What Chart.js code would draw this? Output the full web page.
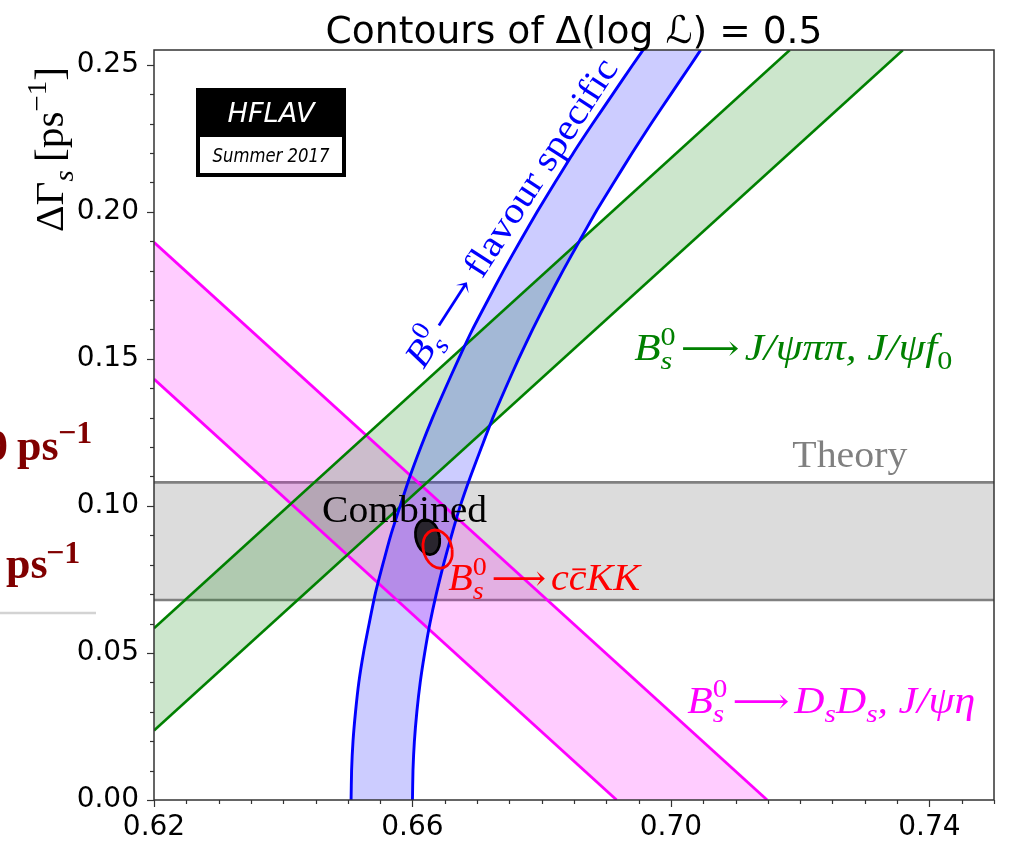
<!DOCTYPE html>
<html><head><meta charset="utf-8">
<script src="https://cdn.jsdelivr.net/npm/chart.js@4.4.0/dist/chart.umd.min.js"></script>
<style>html,body{margin:0;padding:0;background:#fff;}#wrap{width:1009px;height:843px;}</style>
</head><body><div id="wrap"><canvas id="c" width="1009" height="843"></canvas></div>
<script>
// ---- axis limits & tick labels ----
const xLimits = [0.62, 0.75];
const yLimits = [0.0, 0.255];
const xTickValues = [0.62, 0.66, 0.70, 0.74];
const yTickValues = [0.00, 0.05, 0.10, 0.15, 0.20, 0.25];
const xMinorStep = 0.005, yMinorStep = 0.01;

// ---- Theory band (ΔΓs range) ----
const theoryBand = [0.068, 0.108];

// ---- B_s -> J/psi pi pi, J/psi f0 (green band edges, [Γs, ΔΓs]) ----
const greenUpper = [[0.62, 0.0584], [0.7184, 0.255]];
const greenLower = [[0.62, 0.0236], [0.7359, 0.255]];

// ---- B_s -> Ds Ds, J/psi eta (magenta band edges) ----
const magentaUpper = [[0.62, 0.1896], [0.7149, 0.0]];
const magentaLower = [[0.62, 0.1431], [0.6916, 0.0]];

// ---- B_s -> flavour specific (blue band edges) ----
const blueDeltaGamma = [0, 0.01, 0.02, 0.03, 0.04, 0.05, 0.06, 0.07, 0.08, 0.09, 0.10, 0.11, 0.12, 0.13, 0.14, 0.15, 0.16, 0.17, 0.18, 0.19, 0.20, 0.21, 0.22, 0.23, 0.24, 0.25, 0.255];
const blueLeftGamma  = [0.6505, 0.65058, 0.6508, 0.65119, 0.6517, 0.65242, 0.6533, 0.65423, 0.6554, 0.65664, 0.6581, 0.65961, 0.6613, 0.66312, 0.6651, 0.66715, 0.6693, 0.67168, 0.6741, 0.67666, 0.6793, 0.68208, 0.6849, 0.6879, 0.6910, 0.6941, 0.6957];
const blueRightGamma = [0.6600, 0.66008, 0.6603, 0.66068, 0.6612, 0.66189, 0.6627, 0.66368, 0.6648, 0.66605, 0.6674, 0.66898, 0.6707, 0.67245, 0.6744, 0.67643, 0.6786, 0.6809, 0.6833, 0.68583, 0.6884, 0.69119, 0.6940, 0.69695, 0.7000, 0.70308, 0.7046];

// ---- Combined contour ----
const combinedGamma = [0.66421, 0.66378, 0.66297, 0.66199, 0.66111, 0.66056, 0.66049, 0.66092, 0.66173, 0.66271, 0.66359, 0.66414, 0.66421];
const combinedDG    = [0.0894, 0.09238, 0.09455, 0.09535, 0.09455, 0.09238, 0.0894, 0.08643, 0.08425, 0.08345, 0.08425, 0.08643, 0.0894];

// ---- B_s -> c cbar K K contour ----
const ccKKGamma = [0.66615, 0.66565, 0.66469, 0.66351, 0.66244, 0.66175, 0.66165, 0.66215, 0.66311, 0.66429, 0.66536, 0.66605, 0.66615];
const ccKKDG    = [0.0853, 0.08855, 0.09093, 0.0918, 0.09093, 0.08855, 0.0853, 0.08205, 0.07967, 0.0788, 0.07967, 0.08205, 0.0853];

// ---------------- helpers ----------------
const pts = a => a.map(p => ({x: p[0], y: p[1]}));
const zipPts = (xs, ys) => xs.map((x, i) => ({x: x, y: ys[i]}));

const blueLeft = zipPts(blueLeftGamma, blueDeltaGamma);
const blueRight = zipPts(blueRightGamma, blueDeltaGamma);

const greenPoly = pts([greenUpper[0], greenUpper[1], greenLower[1], greenLower[0]]);
const magentaPoly = pts([magentaUpper[0], magentaUpper[1], magentaLower[1], magentaLower[0]]);
const bluePoly = blueLeft.concat(blueRight.slice().reverse());
const theoryPoly = [{x: xLimits[0], y: theoryBand[0]}, {x: xLimits[1], y: theoryBand[0]}, {x: xLimits[1], y: theoryBand[1]}, {x: xLimits[0], y: theoryBand[1]}];

function lineDs(data, color, width, order, tension) {
  return {data, showLine: true, pointRadius: 0, borderColor: color, borderWidth: width, fill: false, order, tension: tension || 0, borderJoinStyle: 'round'};
}
function fillDs(data, color, order) {
  return {data, showLine: true, pointRadius: 0, borderWidth: 0, borderColor: 'rgba(0,0,0,0)', backgroundColor: color, fill: 'shape', order, tension: 0};
}

const datasets = [
  fillDs(theoryPoly, 'rgba(128,128,128,0.28)', 100),
  lineDs(pts([[xLimits[0], theoryBand[0]], [xLimits[1], theoryBand[0]]]), '#808080', 2.6, 90),
  lineDs(pts([[xLimits[0], theoryBand[1]], [xLimits[1], theoryBand[1]]]), '#808080', 2.6, 90),
  fillDs(magentaPoly, 'rgba(255,0,255,0.2)', 80),
  fillDs(greenPoly, 'rgba(0,128,0,0.2)', 79),
  fillDs(bluePoly, 'rgba(0,0,255,0.2)', 78),
  lineDs(pts(magentaUpper), '#ff00ff', 2.8, 50),
  lineDs(pts(magentaLower), '#ff00ff', 2.8, 50),
  lineDs(pts(greenUpper), '#008000', 2.6, 49),
  lineDs(pts(greenLower), '#008000', 2.6, 49),
  lineDs(blueLeft, '#0000ff', 2.9, 48, 0.2),
  lineDs(blueRight, '#0000ff', 2.9, 48, 0.2),
  {data: zipPts(combinedGamma, combinedDG), showLine: true, pointRadius: 0, borderColor: '#000', borderWidth: 2.8,
   backgroundColor: 'rgba(25,25,25,0.9)', fill: 'shape', tension: 0.45, order: 10},
  {data: zipPts(ccKKGamma, ccKKDG), showLine: true, pointRadius: 0, borderColor: '#ff0000', borderWidth: 2.8,
   fill: false, tension: 0.45, order: 5}
];

// ---------- text helpers ----------
const SERIF = '"Liberation Serif", "DejaVu Serif", serif';
function fontStr(sz, italic, bold, fam) { return (italic ? 'italic ' : '') + (bold ? 'bold ' : '') + sz + 'px ' + fam; }
function layoutMath(ctx, parts, size, fam, bold) {
  let w = 0; const items = [];
  for (const p of parts) {
    if (p.sp !== undefined) { w += p.sp * size; continue; }
    if (p.t !== undefined) {
      const sz = size * (p.sc || 1);
      ctx.font = fontStr(sz, p.i, bold, p.fam || fam);
      const tw = ctx.measureText(p.t).width;
      items.push({t: p.t, font: ctx.font, x: w, dy: (p.dy || 0) * size});
      if (p.bar) items.push({bar: true, x0: w + tw * 0.2, x1: w + tw * 0.95, dy: -size * 0.56, lw: size * 0.05});
      w += tw;
    } else {
      const ss = size * (p.scale || 0.7); let mw = 0;
      if (p.sub !== undefined) { ctx.font = fontStr(ss, p.subI, bold, fam); const tw = ctx.measureText(p.sub).width; items.push({t: p.sub, font: ctx.font, x: w, dy: size * 0.24}); mw = Math.max(mw, tw); }
      if (p.sup !== undefined) { ctx.font = fontStr(ss, p.supI, bold, fam); const tw = ctx.measureText(p.sup).width; items.push({t: p.sup, font: ctx.font, x: w, dy: -size * 0.42}); mw = Math.max(mw, tw); }
      w += mw;
    }
  }
  return {w, items};
}
function drawMath(ctx, parts, x, y, o) {
  const L = layoutMath(ctx, parts, o.size, o.fam || SERIF, o.bold);
  ctx.save();
  ctx.translate(x, y);
  if (o.angle) ctx.rotate(o.angle * Math.PI / 180);
  if (o.width) ctx.scale(o.width / L.w, 1);
  ctx.fillStyle = o.color; ctx.strokeStyle = o.color;
  ctx.textAlign = 'left'; ctx.textBaseline = 'alphabetic';
  for (const it of L.items) {
    if (it.bar) { ctx.lineWidth = it.lw; ctx.beginPath(); ctx.moveTo(it.x0, it.dy); ctx.lineTo(it.x1, it.dy); ctx.stroke(); }
    else { ctx.font = it.font; ctx.fillText(it.t, it.x, it.dy); }
  }
  ctx.restore();
}
function fitText(ctx, text, cx, y, width, font, color) {
  ctx.save(); ctx.font = font;
  const w = ctx.measureText(text).width;
  ctx.translate(cx, y); ctx.scale(width / w, 1);
  ctx.fillStyle = color; ctx.textAlign = 'center'; ctx.textBaseline = 'alphabetic';
  ctx.fillText(text, 0, 0); ctx.restore();
}

const ARROW = [{sp: 0.12}, {t: '⟶', sc: 0.95, dy: 0.0, fam: '"DejaVu Serif"'}, {sp: 0.12}];
const Bs0 = [{t: 'B', i: true}, {sub: 's', subI: true, sup: '0'}];
const labels = [
  {parts: Bs0.concat(ARROW, [{t: 'J/ψππ, J/ψf', i: true}, {sub: '0'}]), at: [0.69433, 0.14956], size: 37, width: 318, color: '#008000'},
  {parts: [{t: 'Theory'}], at: [0.71879, 0.11319], size: 37, width: 115, color: '#808080'},
  {parts: [{t: 'Combined'}], at: [0.64601, 0.09449], size: 37, width: 165, color: '#000000'},
  {parts: Bs0.concat(ARROW, [{t: 'c', i: true}, {t: 'c', i: true, bar: true}, {t: 'KK', i: true}]), at: [0.66552, 0.07138], size: 37, width: 192, color: '#ff0000'},
  {parts: Bs0.concat(ARROW, [{t: 'D', i: true}, {sub: 's', subI: true}, {t: 'D', i: true}, {sub: 's', subI: true}, {t: ', J/ψη', i: true}]), at: [0.70253, 0.02957], size: 37, width: 288, color: '#ff00ff'},
  {parts: Bs0.concat(ARROW, [{sp: 0.1}, {t: 'flavour specific'}]), at: [0.6617, 0.14616], size: 37, width: 360, color: '#0000ff', angle: -57.1}
];

const deco = {
  id: 'deco',
  beforeDraw(chart) {
    const ctx = chart.ctx; ctx.save(); ctx.fillStyle = '#fff'; ctx.fillRect(0, 0, chart.width, chart.height); ctx.restore();
  },
  afterDatasetsDraw(chart) {
    const ctx = chart.ctx, a = chart.chartArea, xs = chart.scales.x, ys = chart.scales.y;
    ctx.save();
    ctx.strokeStyle = '#333'; ctx.lineWidth = 1.2;
    for (let k = 0; ; k++) {
      const v = xLimits[0] + k * xMinorStep; if (v > xLimits[1] + 1e-9) break;
      const px = Math.round(xs.getPixelForValue(v)) + 0.5;
      const major = xTickValues.some(t => Math.abs(t - v) < 1e-9);
      ctx.beginPath(); ctx.moveTo(px, a.bottom); ctx.lineTo(px, a.bottom + (major ? 7 : 4)); ctx.stroke();
    }
    for (let k = 0; ; k++) {
      const v = yLimits[0] + k * yMinorStep; if (v > yLimits[1] + 1e-9) break;
      const py = Math.round(ys.getPixelForValue(v)) + 0.5;
      const major = yTickValues.some(t => Math.abs(t - v) < 1e-9);
      ctx.beginPath(); ctx.moveTo(a.left, py); ctx.lineTo(a.left - (major ? 7 : 4), py); ctx.stroke();
    }
    ctx.lineWidth = 1.5; ctx.strokeStyle = '#333';
    ctx.strokeRect(a.left, a.top, a.right - a.left, a.bottom - a.top);
    ctx.restore();
  },
  afterDraw(chart) {
    const ctx = chart.ctx, a = chart.chartArea, xs = chart.scales.x, ys = chart.scales.y;
    for (const L of labels) {
      drawMath(ctx, L.parts, xs.getPixelForValue(L.at[0]), ys.getPixelForValue(L.at[1]), {size: L.size, width: L.width, color: L.color, angle: L.angle});
    }
    fitText(ctx, 'Contours of Δ(log ℒ) = 0.5', (a.left + a.right) / 2, 43, 497, '38px "DejaVu Sans"', '#000');
    drawMath(ctx, [{t: 'ΔΓ'}, {sub: 's', subI: true}, {t: '\u2009[ps'}, {sup: '−1'}, {t: ']'}], 63, 232, {size: 40, width: 165, color: '#000', angle: -90});
    ctx.save();
    ctx.fillStyle = '#000'; ctx.fillRect(a.left + 42, a.top + 38, 150, 89);
    ctx.fillStyle = '#fff'; ctx.fillRect(a.left + 46, a.top + 87, 142, 36);
    ctx.restore();
    fitText(ctx, 'HFLAV', a.left + 117, a.top + 72, 87, 'italic 27px "DejaVu Sans"', '#fff');
    fitText(ctx, 'Summer 2017', a.left + 117, a.top + 112, 117, 'italic 19px "DejaVu Sans"', '#000');
    // cropped slide fragments at far left
    ctx.save();
    ctx.fillStyle = '#800000';
    ctx.textBaseline = 'alphabetic'; ctx.textAlign = 'left';
    ctx.font = 'bold 44px "Liberation Serif"';
    ctx.fillText('0', -14, 460);
    ctx.fillText('ps', 17, 460);
    ctx.fillText('ps', 6, 578);
    ctx.font = 'bold 32px "Liberation Serif"';
    ctx.fillText('−1', 58, 443);
    ctx.fillText('−1', 46, 563);
    ctx.strokeStyle = '#d3d3d3'; ctx.lineWidth = 2.5;
    ctx.beginPath(); ctx.moveTo(0, 613); ctx.lineTo(96, 613); ctx.stroke();
    ctx.restore();
  }
};

new Chart(document.getElementById('c'), {
  type: 'scatter',
  data: {datasets},
  options: {
    responsive: false, animation: false, events: [],
    layout: {padding: {left: 0, right: 15, top: 50, bottom: 0}},
    plugins: {legend: {display: false}, tooltip: {enabled: false}, title: {display: false}},
    scales: {
      x: {
        type: 'linear', min: xLimits[0], max: xLimits[1],
        afterFit(s) { s.height = 43; },
        afterBuildTicks(s) { s.ticks = xTickValues.map(v => ({value: v})); },
        grid: {display: false, drawTicks: false},
        border: {display: false},
        ticks: {autoSkip: false, maxRotation: 0, padding: 11, color: '#000', font: {family: 'DejaVu Sans', size: 28},
                callback: v => Number(v).toFixed(2)}
      },
      y: {
        type: 'linear', min: yLimits[0], max: yLimits[1],
        afterFit(s) { s.width = 154; },
        afterBuildTicks(s) { s.ticks = yTickValues.map(v => ({value: v})); },
        grid: {display: false, drawTicks: false},
        border: {display: false},
        ticks: {autoSkip: false, padding: 15, color: '#000', font: {family: 'DejaVu Sans', size: 28},
                callback: v => Number(v).toFixed(2)}
      }
    }
  },
  plugins: [deco]
});
</script></body></html>
